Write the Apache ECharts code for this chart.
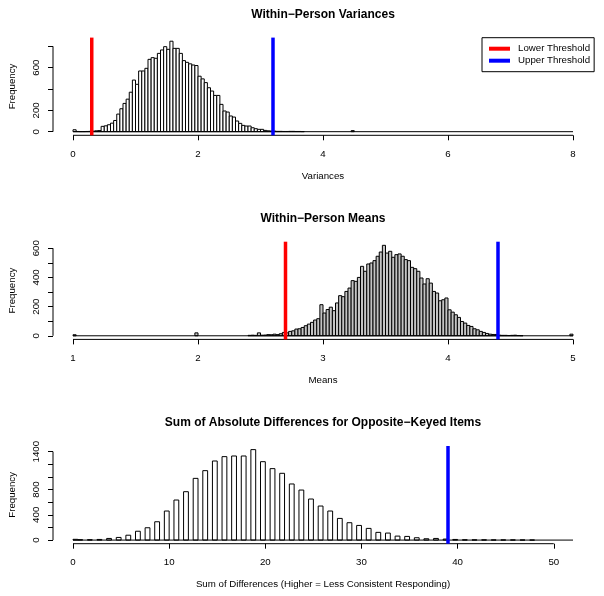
<!DOCTYPE html>
<html><head><meta charset="utf-8">
<script src="https://cdn.jsdelivr.net/npm/echarts@6/dist/echarts.min.js"></script>
<style>html,body{margin:0;padding:0;background:#fff}#c{width:604px;height:596px}</style>
</head><body><div id="c"></div>
<script>
// ---------- Panel 1: Within-Person Variances (bins of 0.05 starting at 0) ----------
const varTitle = "Within\u2212Person Variances";
const varXName = "Variances";
const varBinWidth = 0.05;
const varRange = [0, 8];
const varCounts = [18,2,1,1,2,3,5,8,10,50,55,65,80,105,165,215,265,305,370,484,
  444,569,569,594,678,694,688,734,766,797,772,848,781,781,734,666,650,636,625,620,
  520,495,460,412,381,340,340,256,194,184,147,137,100,78,59,53,53,37,28,22,
  22,12,8,6,5,3,3,2,2,3,3,2,2,1,0,0,0,0,0,0,0,0,0,0,0,0,0,0,0,10];
const varXTicks = [0, 2, 4, 6, 8];
const varYTicks = [0, 200, 400, 600, 800];
const varYLabels = [0, 200, 600];
const varLower = 0.3, varUpper = 3.2;

// ---------- Panel 2: Within-Person Means (bins of 0.025 starting at 1) ----------
const meanTitle = "Within\u2212Person Means";
const meanXName = "Means";
const meanBinWidth = 0.025;
const meanRange = [1, 5];
const meanCounts = [7,0,0,0,0,0,0,0,0,0, 0,0,0,0,0,0,0,0,0,0,
  0,0,0,0,0,0,0,0,0,0, 0,0,0,0,0,0,0,0,0,20,
  0,0,0,0,0,0,0,0,0,0, 0,0,0,0,0,0,3,4,3,20,
  4,5,8,7,11,8,14,23,20,30, 34,46,48,57,69,80,92,108,117,213,
  156,180,196,172,225,275,268,304,327,378, 373,400,476,442,492,499,515,545,574,620,
  567,579,538,556,561,545,522,515,469,460, 442,396,355,391,361,304,293,240,247,259,
  178,162,144,126,98,87,71,64,48,41, 30,23,16,11,9,9,4,3,3,2,
  3,4,2,1,0,0,0,0,0,0, 0,0,0,0,0,0,0,0,0,11];
const meanXTicks = [1, 2, 3, 4, 5];
const meanYTicks = [0, 100, 200, 300, 400, 500, 600];
const meanYLabels = [0, 200, 400, 600];
const meanLower = 2.7, meanUpper = 4.4;

// ---------- Panel 3: Sum of absolute differences (integer values 0..52) ----------
const sumTitle = "Sum of Absolute Differences for Opposite\u2212Keyed Items";
const sumXName = "Sum of Differences (Higher = Less Consistent Responding)";
const sumValues = [];
for (let k = 0; k <= 52; k++) sumValues.push(k);
const sumCounts = [12,6,6,10,26,42,77,140,195,290,
  460,634,766,977,1099,1252,1321,1331,1331,1432,
  1241,1131,1057,888,792,650,539,460,343,275,
  232,185,122,111,63,58,37,21,26,16,
  10,5,4,4,3,3,3,2,1,0,0,0,0];
const sumRange = [0, 52];
const sumXTicks = [0, 10, 20, 30, 40, 50];
const sumYTicks = [0, 200, 400, 600, 800, 1000, 1200, 1400];
const sumYLabels = [0, 400, 800, 1400];
const sumUpper = 39;

// ---------- build ----------
const FONT = '"Liberation Sans", Arial, Helvetica, sans-serif';
const GRID_LEFT = 53, GRID_W = 540;
const gridTops = [37.6, 241.7, 446];
const GRID_H = 97.7;

function binsFromStart(start, width, counts) {
  const out = [];
  counts.forEach((c, i) => { if (c > 0) out.push([start + i * width, start + (i + 1) * width, c]); });
  return out;
}
const varBins = binsFromStart(varRange[0], varBinWidth, varCounts);
const meanBins = binsFromStart(meanRange[0], meanBinWidth, meanCounts);
const sumBins = [];
sumValues.forEach((k, i) => {
  if (sumCounts[i] > 0) sumBins.push(k === 0 ? [0, 0.5, sumCounts[i]] : [k - 0.5, k, sumCounts[i]]);
});

const panels = [
  {title: varTitle, xname: varXName, bins: varBins, range: varRange, xt: varXTicks, yt: varYTicks, yl: varYLabels, fill: '#ffffff', lines: [[varLower, 'Lower Threshold', '#ff0000'], [varUpper, 'Upper Threshold', '#0000ff']]},
  {title: meanTitle, xname: meanXName, bins: meanBins, range: meanRange, xt: meanXTicks, yt: meanYTicks, yl: meanYLabels, fill: '#c4c4c4', lines: [[meanLower, 'Lower Threshold', '#ff0000'], [meanUpper, 'Upper Threshold', '#0000ff']]},
  {title: sumTitle, xname: sumXName, bins: sumBins, range: sumRange, xt: sumXTicks, yt: sumYTicks, yl: sumYLabels, fill: '#ffffff', lines: [[sumUpper, 'Upper Threshold', '#0000ff']]}
];

const grid = [], xAxis = [], yAxis = [], series = [], graphic = [];
panels.forEach((p, i) => {
  const M = Math.max(...p.bins.map(b => b[2]));
  const ymin = -0.04 * M, ymax = 1.04 * M;
  const span = p.range[1] - p.range[0];
  const xmin = p.range[0] - 0.04 * span, xmax = p.range[1] + 0.04 * span;
  grid.push({left: GRID_LEFT, width: GRID_W, top: gridTops[i], height: GRID_H, containLabel: false, outerBoundsMode: 'none'});
  xAxis.push({
    type: 'value', gridIndex: i, min: xmin, max: xmax,
    axisLine: {show: false, onZero: false}, splitLine: {show: false},
    axisTick: {show: true, customValues: p.xt, length: 5, lineStyle: {color: '#000', width: 1}},
    axisLabel: {customValues: p.xt, margin: 14, color: '#000', fontSize: 9.7, fontFamily: FONT, formatter: v => String(v)},
    name: p.xname, nameLocation: 'middle', nameGap: 36,
    nameTextStyle: {color: '#000', fontSize: 9.7, fontFamily: FONT}
  });
  yAxis.push({
    type: 'value', gridIndex: i, min: ymin, max: ymax,
    axisLine: {show: false, onZero: false}, splitLine: {show: false},
    axisTick: {show: true, customValues: p.yt, length: 5, lineStyle: {color: '#000', width: 1}},
    axisLabel: {customValues: p.yl, rotate: 90, margin: 12, color: '#000', fontSize: 9.7, fontFamily: FONT, formatter: v => String(v)},
    name: 'Frequency', nameLocation: 'middle', nameGap: 36, nameRotate: 90,
    nameTextStyle: {color: '#000', fontSize: 9.7, fontFamily: FONT}
  });
  const fill = p.fill;
  series.push({
    type: 'custom', xAxisIndex: i, yAxisIndex: i, data: p.bins, silent: true,
    encode: {x: [0, 1], y: 2},
    renderItem: function (params, api) {
      const a = api.coord([api.value(0), 0]);
      const b = api.coord([api.value(1), api.value(2)]);
      return {type: 'rect', shape: {x: a[0], y: b[1], width: b[0] - a[0], height: a[1] - b[1]},
              style: {fill: fill, stroke: '#000', lineWidth: 1}};
    }
  });
  const lineBase = {type: 'line', xAxisIndex: i, yAxisIndex: i, symbol: 'none', clip: false, silent: true, animation: false};
  // histogram baseline (zero-count bins)
  series.push(Object.assign({}, lineBase, {data: [[p.range[0], 0], [p.range[1], 0]], lineStyle: {color: '#000', width: 1}}));
  // axis lines (tick ranges only)
  series.push(Object.assign({}, lineBase, {data: [[p.xt[0], ymin], [p.xt[p.xt.length - 1], ymin]], lineStyle: {color: '#000', width: 1}}));
  series.push(Object.assign({}, lineBase, {data: [[xmin, p.yt[0]], [xmin, p.yt[p.yt.length - 1]]], lineStyle: {color: '#000', width: 1}}));
  // thresholds
  p.lines.forEach(l => {
    series.push(Object.assign({}, lineBase, {name: l[1], color: l[2], data: [[l[0], ymin], [l[0], ymax]], lineStyle: {color: l[2], width: 3.5}}));
  });
  graphic.push({type: 'text', x: GRID_LEFT + GRID_W / 2, y: [14.5, 218.3, 422.7][i],
    style: {text: p.title, fill: '#000', font: 'bold 12px ' + FONT, align: 'center', verticalAlign: 'middle'}});
});

const chart = echarts.init(document.getElementById('c'), null, {renderer: 'canvas'});
chart.setOption({
  animation: false,
  backgroundColor: '#fff',
  grid, xAxis, yAxis, series, graphic,
  legend: {
    data: ['Lower Threshold', 'Upper Threshold'],
    orient: 'vertical', left: 482, top: 37.7,
    icon: 'rect', itemWidth: 21, itemHeight: 4, itemGap: 0,
    padding: [5, 4, 5, 7],
    borderColor: '#000', borderWidth: 1, backgroundColor: '#fff',
    selectedMode: false,
    textStyle: {color: '#000', fontSize: 9.7, fontFamily: FONT, lineHeight: 12, padding: [0, 0, 0, 3]}
  }
});
</script></body></html>
